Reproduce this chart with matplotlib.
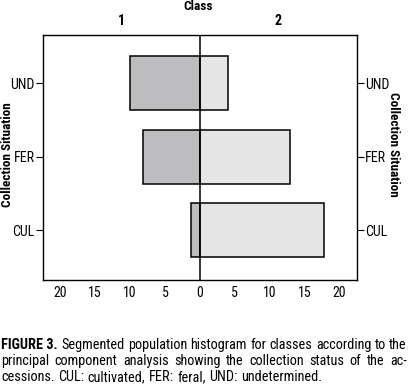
import matplotlib
matplotlib.use("Agg")
import matplotlib.pyplot as plt

plt.rcParams['font.family'] = ['Roboto Condensed', 'Archivo Narrow', 'PT Sans Narrow',
                               'Liberation Sans Narrow', 'Liberation Sans', 'DejaVu Sans']

# --- data ---
situations = ["UND", "FER", "CUL"]
class1 = [10.0, 8.1, 1.3]   # drawn to the left
class2 = [4.0, 12.9, 17.8]  # drawn to the right
class_labels = ["1", "2"]
xticks = [-20, -15, -10, -5, 0, 5, 10, 15, 20]

caption = [
    [("FIGURE 3.", True), ("Segmented", False), ("population", False), ("histogram", False),
     ("for", False), ("classes", False), ("according", False), ("to", False), ("the", False)],
    [(w, False) for w in "principal component analysis showing the collection status of the ac-".split()],
    [(w, False) for w in "cessions. CUL: cultivated, FER: feral, UND: undetermined.".split()],
]

dark = "#bdbdc0"
light = "#e5e5e5"
W, H = 408, 389

fig = plt.figure(figsize=(W / 100, H / 100), dpi=100)
ax = fig.add_axes([0.105, 0.28, 0.77, 0.63])

ypos = [2, 1, 0]
ax.barh(ypos, [-v for v in class1], height=0.735, color=dark, edgecolor="black", linewidth=1.1)
ax.barh(ypos, class2, height=0.735, color=light, edgecolor="black", linewidth=1.1)
ax.axvline(0, color="black", linewidth=1.1)

ax.set_xlim(-22.5, 22.5)
ax.set_ylim(-0.68, 2.66)
ax.set_xticks(xticks)
ax.set_xticklabels([str(abs(t)) for t in xticks], fontsize=10)
ax.tick_params(axis="x", length=0, pad=4)
ax.set_yticks(ypos)
ax.set_yticklabels(situations, fontsize=10)
ax.tick_params(axis="y", length=5, width=0.8, left=True, right=True,
               labelleft=True, labelright=True, pad=1)
for s in ax.spines.values():
    s.set_linewidth(1.0)

fig.text(8 / W, 1 - 155 / H, "Collection Situation", fontsize=9.5, fontweight="bold",
         rotation=90, ha="center", va="center")
fig.text(394 / W, 1 - 144 / H, "Collection Situation", fontsize=9.5, fontweight="bold",
         rotation=270, ha="center", va="center")

ax.text(0.25, 1.03, class_labels[0], transform=ax.transAxes, ha="center", va="bottom",
        fontsize=10, fontweight="bold")
ax.text(0.75, 1.03, class_labels[1], transform=ax.transAxes, ha="center", va="bottom",
        fontsize=10, fontweight="bold")
fig.text(198 / W, 1 - 6 / H, "Class", fontsize=9.5, fontweight="bold", ha="center", va="center")

# caption, justified like the journal text
renderer = fig.canvas.get_renderer()
cap_size = 10.3
x0, x1 = 1, 407
line_y = [345, 361, 377]
for i, words in enumerate(caption):
    texts = [fig.text(0, 1 - line_y[i] / H, w, fontsize=cap_size,
                      fontweight="bold" if b else "normal", va="center")
             for w, b in words]
    widths = [t.get_window_extent(renderer).width for t in texts]
    if i < len(caption) - 1:
        gap = (x1 - x0 - sum(widths)) / (len(texts) - 1)
    else:
        gap = 3.5
    x = x0
    for t, w in zip(texts, widths):
        t.set_x(x / W)
        x += w + gap

fig.savefig("out.png", dpi=100)
